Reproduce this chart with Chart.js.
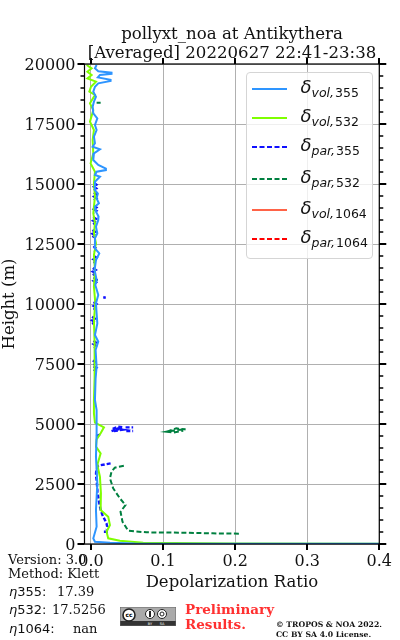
<!DOCTYPE html>
<html><head><meta charset="utf-8">
<script src="https://cdn.jsdelivr.net/npm/chart.js@4"></script>
<style>
html,body{margin:0;padding:0;background:#fff;width:400px;height:640px;overflow:hidden}
#wrap{position:relative;width:400px;height:640px}
canvas{position:absolute;left:0;top:0}
.t{position:absolute;white-space:nowrap;font-family:"DejaVu Serif";color:#111}
.m{font-family:"DejaVu Sans"}
#legend{position:absolute;left:245.5px;top:72px;width:127px;height:187px;background:rgba(255,255,255,.8);border:1px solid #d5d5d5;border-radius:4px;box-sizing:border-box}
.sw{position:absolute;left:5px;width:35px;height:2px}
.lb{position:absolute;left:54px;font:italic 18px "DejaVu Sans";color:#111;white-space:nowrap;line-height:20px}
.lb span{font-size:12.5px;position:relative;top:4px;margin-left:0}
.lb b{font:12.5px "DejaVu Sans";margin-left:1px}
</style></head><body>
<div id="wrap">
<canvas id="c" width="400" height="640"></canvas>
<div id="legend"></div>
<div class="t" id="tt" style="left:32px;width:400px;top:24px;font-size:16.6px;line-height:19px;text-align:center;color:#111"></div>
<div class="t" style="left:8px;top:552px;font-size:13px">Version: 3.0</div>
<div class="t" style="left:8px;top:566px;font-size:13px">Method: Klett</div>
<div class="t" style="left:9px;top:584px;font-size:13px"><i class="m">η</i><span class="m">355:</span></div><div class="t" style="left:57px;top:584px;font-size:13px">17.39</div>
<div class="t" style="left:9px;top:602px;font-size:13px"><i class="m">η</i><span class="m">532:</span></div><div class="t" style="left:52px;top:602px;font-size:13px">17.5256</div>
<div class="t" style="left:9px;top:621px;font-size:13px"><i class="m">η</i><span class="m">1064:</span></div><div class="t" style="left:73px;top:621px;font-size:13px">nan</div>
<svg style="position:absolute;left:120px;top:607px" width="56" height="19" viewBox="0 0 56 19">
<rect width="56" height="19" fill="#aaa"/><rect y="14" width="56" height="5" fill="#333"/><rect x="0" y="0" width="56" height="19" fill="none" stroke="#666" stroke-width="1"/>
<circle cx="9" cy="8" r="6" fill="#fff" stroke="#222" stroke-width="1.6"/><text x="9" y="10" font-size="6" font-weight="bold" text-anchor="middle" font-family="DejaVu Sans">cc</text>
<circle cx="30" cy="7" r="4.5" fill="#fff" stroke="#222"/><rect x="29" y="4" width="2" height="6" fill="#222"/>
<circle cx="42" cy="7" r="4.5" fill="#fff" stroke="#222"/><circle cx="42" cy="7" r="2" fill="none" stroke="#222"/>
<text x="30" y="18" font-size="3.5" fill="#fff" text-anchor="middle" font-family="DejaVu Sans">BY</text><text x="42" y="18" font-size="3.5" fill="#fff" text-anchor="middle" font-family="DejaVu Sans">SA</text>
</svg>
<div class="t" style="left:185px;top:602px;font-size:13.5px;font-weight:bold;color:#ff3030;line-height:15px">Preliminary<br>Results.</div>
<div class="t" style="left:276px;top:620px;font-size:7.7px;font-weight:bold;color:#111;line-height:9.5px">© TROPOS &amp; NOA 2022.<br>CC BY SA 4.0 License.</div>
</div>
<script>
const titleLines = ["pollyxt_noa at Antikythera", "[Averaged] 20220627 22:41-23:38"];
const xTicks = [0, 0.1, 0.2, 0.3, 0.4];
const majorHeightStep = 2500;

const vol355H = [19958,19819,19700,19640,19590,19541,19440,19340,19290,19194,19055,18847,18638,18430,18222,17944,17735,17458,17250,16972,16694,16555,16444,16277,15999,15791,15640,15580,15513,15374,15305,15097,14749,14600,14402,14200,14055,13848,13650,13500,13222,12945,12736,12320,12111,11833,11417,11000,10792,10375,10028,9611,9194,8708,8430,8083,7389,6903,6000,5583,4611,3639,2527,1417,722,236,97,55,25,12,8];
const vol355V = [0.0078,0.0055,0.0101,0.0285,0.0285,0.0124,0.0095,0.0272,0.0272,0.0101,0.0055,0.0032,0.0069,0.0041,0.0023,0.0032,0.0088,0.0055,0.0078,0.0041,0.0055,0.0023,0.0124,0.0041,0.0032,0.0101,0.0207,0.0207,0.0078,0.0055,0.0124,0.0055,0.0055,0.0095,0.0078,0.0110,0.0055,0.0069,0.0105,0.0101,0.0069,0.0088,0.0055,0.0055,0.0115,0.0069,0.0050,0.0078,0.0060,0.0101,0.0069,0.0078,0.0088,0.0055,0.0101,0.0064,0.0078,0.0064,0.0055,0.0078,0.0078,0.0069,0.0088,0.0069,0.0078,0.0032,0.0055,0.0263,0.06,0.2,0.4];

const vol532H = [19958,19819,19680,19541,19402,19263,19055,18847,18708,18361,18083,17597,17250,16833,16277,15861,15513,15027,14472,13778,13361,12945,12528,12042,11417,10722,10028,9333,8361,6903,6000,5444,5055,4861,4611,4361,4055,3778,3291,2805,2111,1417,1139,791,513,236,138,55,25,13];
const vol532V = [-0.0060,0.0009,-0.0050,0.0009,-0.0050,0.0069,0.0000,-0.0023,0.0055,-0.0014,0.0032,-0.0014,0.0041,0.0023,0.0032,-0.0005,0.0055,0.0041,0.0055,0.0032,0.0055,0.0041,0.0069,0.0041,0.0055,0.0041,0.0060,0.0041,0.0050,0.0050,0.0041,0.0041,0.0055,0.0180,0.0134,0.0078,0.0069,0.0134,0.0088,0.0124,0.0138,0.0134,0.0239,0.0263,0.0216,0.0239,0.0401,0.0724,0.2,0.4];

const par355H = [15050,14970,14890,14810,14730,null,14640,14560,14480,14400,14320,null,14100,14020,13950,13880,13800,null,13620,13540,13470,13400,13320,null,13080,13000,12930,12860,12780,null,12410,12340,12270,12200,null,12010,11930,11860,11790,11710,null,11500,11420,11350,11280,11200,null,11110,11030,10970,10900,10820,null,10280,10260,null,10080,10000,9920,9840,9760,null,9470,9390,9320,9250,9170,null,8470,8390,8330,8260,8180,null,7650,7590,7530,7470,null,7400,7340,7280,7210,null,
  4700,4750,4800,4889,4861,4800,4761,4700,null,4861,4861,null,4708,4708,null,4560,4490,null,3361,3264,3100,2950,2800,2667,2400,2200,1972,1700,1417,1200,1000,860,722,600,null,513,513];
const par355V = [0.0040,0.0075,0.0040,0.0075,0.0040,null,0.0040,0.0075,0.0040,0.0075,0.0040,null,0.0040,0.0075,0.0040,0.0075,0.0040,null,0.0030,0.0070,0.0030,0.0070,0.0030,null,0.0020,0.0060,0.0020,0.0060,0.0020,null,0.0035,0.0060,0.0035,0.0060,null,0.0035,0.0075,0.0035,0.0075,0.0035,null,0.0025,0.0065,0.0025,0.0065,0.0025,null,0.0035,0.0070,0.0035,0.0070,0.0035,null,0.0170,0.0205,null,0.0035,0.0075,0.0035,0.0075,0.0035,null,0.0015,0.0055,0.0015,0.0055,0.0015,null,0.0035,0.0070,0.0035,0.0070,0.0035,null,0.0025,0.0055,0.0025,0.0055,null,0.0035,0.0070,0.0035,0.0070,null,
  0.0285,0.0330,0.0300,0.0377,0.0440,0.0340,0.0440,0.0300,null,0.0480,0.0585,null,0.0490,0.0585,null,0.0124,0.0070,null,0.0272,0.0101,0.0075,0.0070,0.0072,0.0078,0.0085,0.0090,0.0101,0.0115,0.0134,0.0160,0.0193,0.0215,0.0225,0.0215,null,0.0179,0.0262];

const par532H = [3264,3180,3014,2736,2319,1903,1625,1347,930,555,486,472,444,430,null,4680,4819,4778,4750,4680,4650,4720,null,18390,18390,null,11020,10990];
const par532V = [0.0456,0.0331,0.0285,0.0263,0.0308,0.0401,0.0479,0.0410,0.0437,0.0516,0.0769,0.1229,0.1689,0.2058,null,0.1054,0.1183,0.1312,0.1183,0.1054,0.1150,0.1280,null,0.0078,0.0134,null,0.0060,0.0095];

const vol1064H = [], vol1064V = [], par1064H = [], par1064V = [];

const pts = (v, h) => v.map((x, i) => ({x, y: h[i]}));

const legendItems = [
 {sym:"δ", sub:"vol,", n:"355", color:"#2e95ff", dash:"", y:15},
 {sym:"δ", sub:"vol,", n:"532", color:"#7fff00", dash:"", y:44},
 {sym:"δ", sub:"par,", n:"355", color:"#1010ff", dash:"5 2.5", y:73},
 {sym:"δ", sub:"par,", n:"532", color:"#008040", dash:"5 2.5", y:105},
 {sym:"δ", sub:"vol,", n:"1064", color:"#ff6347", dash:"", y:136},
 {sym:"δ", sub:"par,", n:"1064", color:"#ff0000", dash:"5 2.5", y:165}
];
document.getElementById("legend").innerHTML = legendItems.map(it =>
 `<svg class="sw" style="top:${it.y-1}px;height:4px" width="35" viewBox="0 0 35 4"><line x1="0" x2="35" y1="2" y2="2" stroke="${it.color}" stroke-width="1.8" stroke-dasharray="${it.dash}"/></svg>`+
 `<div class="lb" style="top:${it.y-11}px">${it.sym}<span>${it.sub}<b>${it.n}</b></span></div>`).join("");
document.getElementById("tt").innerHTML = titleLines.join("<br>");

const ds = (label, v, h, color, dash, width=2) => ({label, data: pts(v,h), borderColor:color, borderDash:dash, borderWidth:width, showLine:true, pointRadius:0, fill:false, tension:0, spanGaps:false});

const frame = {
 id:"frame",
 afterDatasetsDraw(ch){
  const {ctx, chartArea:a, scales:{x,y}} = ch;
  ctx.save();
  ctx.strokeStyle="#000";
  ctx.lineWidth=1.2;
  ctx.strokeRect(a.left,a.top,a.right-a.left,a.bottom-a.top);
  y.ticks.forEach(t=>{
    const p=Math.round(y.getPixelForValue(t.value));
    const maj=t.value%majorHeightStep===0;
    const l=maj?7:4;
    ctx.lineWidth=maj?2:1.5;
    ctx.beginPath();
    ctx.moveTo(a.left-l,p);ctx.lineTo(a.left,p);
    ctx.moveTo(a.right,p);ctx.lineTo(a.right+l,p);
    ctx.stroke();
  });
  x.ticks.forEach(t=>{
    const p=Math.round(x.getPixelForValue(t.value));
    ctx.lineWidth=2;
    ctx.beginPath();
    ctx.moveTo(p,a.bottom);ctx.lineTo(p,a.bottom+6);
    ctx.moveTo(p,a.top-6);ctx.lineTo(p,a.top);
    ctx.stroke();
  });
  ctx.restore();
 }
};

new Chart(document.getElementById("c"),{
 type:"scatter",
 plugins:[frame],
 data:{datasets:[
  ds("δvol,355",vol355V,vol355H,"#2e95ff",[]),
  ds("δvol,532",vol532V,vol532H,"#7fff00",[]),
  ds("δpar,355",par355V,par355H,"#1010ff",[4,2],2.4),
  ds("δpar,532",par532V,par532H,"#008040",[5,2.5]),
  ds("δvol,1064",vol1064V,vol1064H,"#ff6347",[]),
  ds("δpar,1064",par1064V,par1064H,"#ff0000",[5,2.5])
 ]},
 options:{
  responsive:false,animation:false,
  layout:{padding:{left:0,right:19.5,top:64,bottom:47}},
  plugins:{legend:{display:false},tooltip:{enabled:false},title:{display:false}},
  scales:{
   x:{type:"linear",min:-0.009,max:0.4,
    afterFit(s){s.height=49;},
    afterBuildTicks(s){s.ticks=xTicks.map(v=>({value:v}));},
    grid:{color:"#b0b0b0",lineWidth:1,drawTicks:false},border:{display:false},
    ticks:{color:"#111",font:{family:"DejaVu Serif",size:16},padding:8,maxRotation:0,callback:v=>v.toFixed(1)},
    title:{display:true,text:"Depolarization Ratio",color:"#111",font:{family:"DejaVu Serif",size:16.5},padding:{top:0,bottom:0}}
   },
   y:{type:"linear",min:0,max:20000,
    afterFit(s){s.width=84.5;},
    grid:{color:c=>c.tick&&c.tick.value%majorHeightStep===0?"#b0b0b0":"rgba(0,0,0,0)",lineWidth:1,drawTicks:false},border:{display:false},
    ticks:{stepSize:500,autoSkip:false,color:"#111",font:{family:"DejaVu Serif",size:16},padding:9,labelOffset:1.5,callback:v=>v%majorHeightStep===0?String(v):""},
    title:{display:true,text:"Height (m)",color:"#111",font:{family:"DejaVu Serif",size:16.5},padding:{top:0,bottom:0}}
   }
  }
 }
});
</script>
</body></html>
